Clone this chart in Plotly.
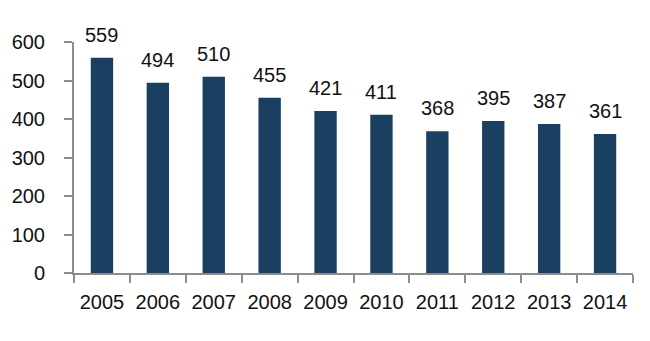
import plotly.graph_objects as go

years = ["2005", "2006", "2007", "2008", "2009", "2010", "2011", "2012", "2013", "2014"]
values = [559, 494, 510, 455, 421, 411, 368, 395, 387, 361]
y_ticks = [0, 100, 200, 300, 400, 500, 600]

bar_color = "#1b3f60"
axis_color = "#8c8c8c"
font_family = "Liberation Sans, Arial, sans-serif"

fig = go.Figure()
fig.add_trace(go.Bar(x=years, y=values, marker_color=bar_color, width=0.4,
                     marker_line_width=0, showlegend=False))

for i, v in enumerate(values):
    fig.add_annotation(x=i, y=v, text=str(v), showarrow=False, yanchor="bottom",
                       yshift=10, font=dict(size=20, color="#111111", family=font_family))

fig.update_layout(
    width=650, height=341,
    margin=dict(l=68, r=17, t=42, b=68),
    paper_bgcolor="white", plot_bgcolor="white",
    font=dict(family=font_family, size=20, color="#111111"),
)
fig.update_xaxes(type="category", range=[-0.5, len(years) - 0.5], showline=True,
                 linecolor=axis_color, linewidth=2, tickangle=0,
                 ticks="outside", tickson="boundaries", ticklen=8, tickcolor=axis_color,
                 tickwidth=2, ticklabelstandoff=10, showgrid=False)
fig.update_yaxes(range=[0, 600], tickvals=y_ticks, showline=True, linecolor=axis_color,
                 linewidth=2, ticks="outside", ticklen=8, tickcolor=axis_color, tickwidth=2,
                 ticklabelstandoff=15, showgrid=False, zeroline=False)

fig.write_html("out.html")
